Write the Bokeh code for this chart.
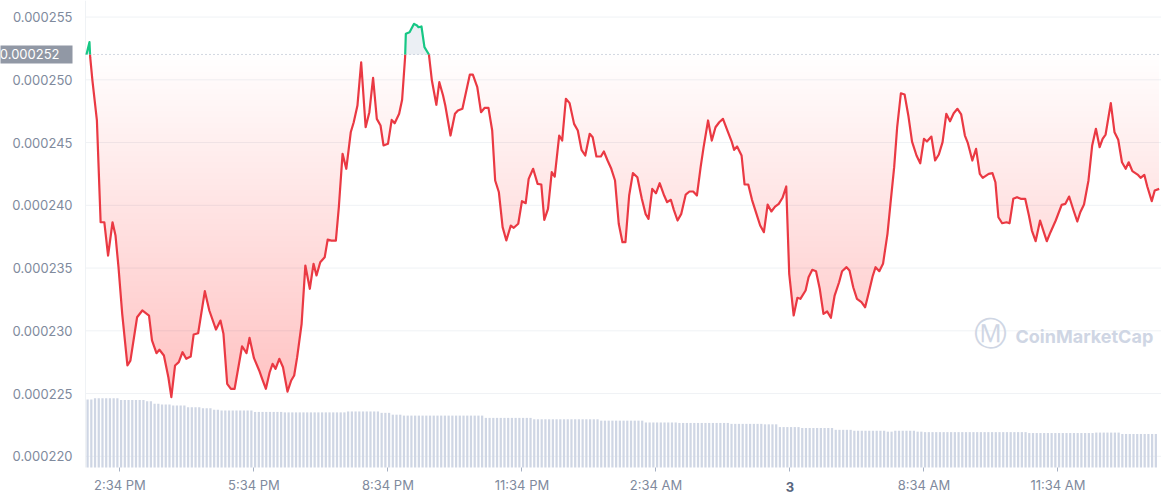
import numpy as np
import pandas as pd
from bokeh.plotting import figure
from bokeh.models import Range1d, FixedTicker, PrintfTickFormatter, Label
from bokeh.embed import file_html
from bokeh.resources import INLINE

# ---------------- data ----------------
start_time = "2023-06-02 13:49"           # first price point
minutes = [0, 4, 5, 8, 14, 19, 24, 29, 35, 39, 43, 48, 55, 59, 68, 75, 84, 88, 94, 98,
           104, 110, 114, 119, 124, 129, 134, 140, 144, 150, 159, 165, 174, 180, 184, 189, 194, 199, 209, 215,
           219, 225, 232, 236, 241, 246, 250, 254, 259, 264, 267, 270, 275, 279, 283, 289, 294, 300, 305, 309,
           314, 320, 324, 329, 335, 339, 344, 349, 355, 359, 364, 369, 375, 380, 385, 390, 395, 399, 405, 410,
           414, 420, 424, 428, 429, 434, 440, 444, 446, 450, 454, 460, 464, 470, 474, 479, 482, 489, 495, 499,
           505, 515, 519, 525, 530, 535, 540, 545, 549, 554, 559, 564, 570, 574, 580, 585, 590, 594, 600, 606,
           611, 615, 620, 625, 629, 635, 639, 644, 649, 655, 660, 665, 670, 676, 680, 685, 691, 695, 700, 705,
           710, 715, 720, 724, 729, 734, 740, 746, 751, 755, 760, 765, 770, 776, 780, 785, 789, 794, 799, 805,
           810, 815, 820, 825, 829, 835, 840, 845, 850, 855, 861, 867, 870, 874, 880, 884, 889, 894, 900, 905,
           910, 915, 920, 925, 930, 935, 940, 944, 950, 955, 959, 966, 970, 975, 980, 985, 990, 995, 1000, 1005,
           1011, 1015, 1021, 1025, 1030, 1035, 1041, 1046, 1051, 1056, 1060, 1065, 1070, 1076, 1080, 1085, 1089, 1094, 1099, 1104,
           1109, 1115, 1120, 1125, 1129, 1135, 1140, 1145, 1150, 1155, 1160, 1165, 1170, 1175, 1180, 1184, 1190, 1195, 1200, 1204,
           1212, 1217, 1221, 1225, 1230, 1236, 1240, 1245, 1250, 1255, 1261, 1266, 1270, 1275, 1281, 1286, 1290, 1295, 1302, 1310,
           1315, 1320, 1326, 1331, 1335, 1340, 1346, 1351, 1356, 1361, 1365, 1369, 1376, 1381, 1386, 1391, 1396, 1400, 1405, 1412,
           1416, 1421, 1425, 1431, 1435, 1441]

price_e6 = [252.02, 253.00, 251.80, 249.94, 246.76, 238.65, 238.65, 236.00, 238.65, 237.59,
            235.07, 231.35, 227.24, 227.63, 231.08, 231.62, 231.22, 229.23, 228.22, 228.49,
            228.03, 226.30, 224.71, 227.24, 227.50, 228.30, 227.77, 227.95, 229.71, 229.81,
            233.16, 231.62, 230.10, 230.82, 229.76, 225.78, 225.38, 225.38, 228.77, 228.22,
            229.44, 227.82, 226.84, 226.18, 225.38, 226.68, 227.37, 226.97, 227.77, 227.10,
            226.12, 225.16, 226.04, 226.44, 227.90, 230.56, 235.20, 233.35, 235.34, 234.41,
            235.47, 235.86, 237.27, 237.19, 237.19, 239.85, 244.10, 242.91, 245.82, 246.62,
            247.95, 251.40, 246.22, 247.42, 250.16, 246.89, 246.36, 244.77, 244.90, 246.81,
            246.54, 247.29, 248.41, 251.80, 253.67, 253.79, 254.46, 254.33, 254.19, 254.25,
            252.60, 252.02, 249.94, 248.01, 249.81, 248.75, 247.95, 245.56, 247.29, 247.55,
            247.69, 250.42, 250.42, 249.41, 247.42, 247.77, 247.77, 245.96, 241.98, 241.04,
            238.26, 237.20, 238.39, 238.21, 238.53, 240.33, 240.17, 242.11, 242.91, 241.71,
            241.66, 238.84, 239.72, 242.64, 242.29, 245.56, 245.16, 248.49, 248.14, 246.49,
            245.96, 244.42, 243.97, 245.70, 245.43, 243.89, 243.89, 244.29, 243.57, 242.91,
            241.98, 238.53, 237.06, 237.06, 240.78, 242.56, 242.24, 240.52, 239.32, 238.92,
            241.31, 240.96, 241.76, 240.78, 240.25, 240.44, 239.64, 238.79, 239.32, 240.86,
            241.10, 241.10, 240.78, 243.04, 244.63, 246.76, 245.16, 246.22, 246.62, 246.89,
            245.96, 245.03, 244.42, 244.69, 243.97, 241.66, 241.66, 240.44, 239.32, 238.39,
            237.86, 240.06, 239.51, 239.90, 240.12, 240.60, 241.50, 234.54, 231.22, 232.63,
            232.55, 233.21, 234.27, 234.86, 234.75, 233.35, 231.35, 231.54, 231.04, 232.81,
            233.87, 234.75, 235.07, 234.81, 233.47, 232.55, 232.28, 231.88, 233.08, 234.33,
            235.07, 234.75, 235.34, 237.73, 240.12, 243.04, 246.22, 248.93, 248.83, 247.16,
            245.08, 243.97, 243.35, 245.30, 245.08, 245.48, 243.57, 244.05, 245.03, 247.29,
            246.70, 247.34, 247.69, 247.24, 245.56, 244.95, 243.57, 244.50, 242.51, 242.19,
            242.51, 242.56, 241.84, 239.05, 238.57, 238.65, 238.57, 240.52, 240.65, 240.52,
            240.52, 239.19, 237.99, 237.14, 238.79, 237.86, 237.14, 237.86, 238.79, 240.04,
            240.12, 240.70, 239.59, 238.71, 239.45, 240.06, 241.98, 244.77, 246.10, 244.63,
            245.30, 245.64, 248.14, 245.82, 245.22, 243.43, 242.91, 243.43, 242.72, 242.45,
            242.19, 242.43, 241.50, 240.33, 241.18, 241.31]

open_price_e6 = 252.02      # reference (open) price, dotted line

# volume bars, one per 5 minutes (arbitrary units)
volume_interval_min = 5
volume = [
    14.8, 14.8,
    15.1, 15.1, 15.1, 15.1, 15.1, 15.1, 15.1,
    14.7, 14.7, 14.7, 14.7, 14.7, 14.7, 14.7,
    14.4, 14.4,
    13.9, 13.9,
    13.7, 13.7, 13.7,
    13.5, 13.5, 13.5, 13.5,
    13.1, 13.1, 13.1, 13.1,
    12.9, 12.9, 12.9,
    12.6, 12.6,
    12.4, 12.4, 12.4, 12.4, 12.4, 12.4, 12.4, 12.4, 12.4,
    12.1, 12.1, 12.1, 12.1, 12.1, 12.1, 12.1, 12.1,
    12.0, 12.0, 12.0, 12.0, 12.0, 12.0, 12.0, 12.0, 12.0, 12.0, 12.0, 12.0, 12.0, 12.0, 12.0, 12.0, 12.0,
    12.2, 12.2, 12.2, 12.2, 12.2, 12.2, 12.2, 12.2, 12.2,
    11.9, 11.9, 11.9,
    11.5, 11.5, 11.5,
    11.3, 11.3, 11.3, 11.3, 11.3, 11.3, 11.3, 11.3, 11.3, 11.3, 11.3,
    11.3, 11.3, 11.3, 11.3, 11.3, 11.3, 11.3, 11.3, 11.3, 11.3, 11.3,
    10.8, 10.8, 10.8, 10.8, 10.8, 10.8, 10.8, 10.8, 10.8, 10.8, 10.8, 10.8, 10.8,
    10.5, 10.5, 10.5, 10.5, 10.5, 10.5, 10.5, 10.5, 10.5, 10.5, 10.5, 10.5, 10.5, 10.5, 10.5, 10.5, 10.5, 10.5,
    10.2, 10.2, 10.2, 10.2, 10.2, 10.2, 10.2, 10.2, 10.2, 10.2, 10.2, 10.2,
    9.8, 9.8, 9.8, 9.8, 9.8, 9.8, 9.8, 9.8, 9.8,
    9.7, 9.7, 9.7, 9.7, 9.7, 9.7, 9.7, 9.7, 9.7, 9.7, 9.7, 9.7, 9.7, 9.7,
    9.5, 9.5, 9.5, 9.5, 9.5, 9.5, 9.5, 9.5, 9.5,
    9.4, 9.4, 9.4, 9.4,
    8.8, 8.8, 8.8, 8.8, 8.8, 8.8,
    8.6, 8.6, 8.6, 8.6, 8.6, 8.6, 8.6, 8.6, 8.6,
    8.2, 8.2, 8.2, 8.2, 8.2,
    8.0, 8.0, 8.0, 8.0, 8.0, 8.0, 8.0, 8.0, 8.0,
    7.8, 7.8,
    8.0, 8.0, 8.0, 8.0, 8.0, 8.0,
    7.8, 7.8,
    7.7, 7.7, 7.7, 7.7, 7.7, 7.7, 7.7, 7.7, 7.7, 7.7, 7.7, 7.7, 7.7, 7.7,
    7.7, 7.7, 7.7, 7.7, 7.7, 7.7, 7.7, 7.7, 7.7, 7.7, 7.7, 7.7, 7.7, 7.7,
    7.5, 7.5, 7.5, 7.5, 7.5, 7.5, 7.5, 7.5, 7.5, 7.5, 7.5, 7.5, 7.5, 7.5, 7.5, 7.5, 7.5, 7.5,
    7.6, 7.6, 7.6, 7.6, 7.6, 7.6, 7.6,
    7.3, 7.3, 7.3, 7.3, 7.3, 7.3, 7.3, 7.3, 7.3, 7.3,
]

x_tick_times = ["2023-06-02 14:34", "2023-06-02 17:34", "2023-06-02 20:34", "2023-06-02 23:34",
                "2023-06-03 02:34", "2023-06-03 05:34", "2023-06-03 08:34", "2023-06-03 11:34"]
x_tick_labels = ["2:34 PM", "5:34 PM", "8:34 PM", "11:34 PM", "2:34 AM", "3", "8:34 AM", "11:34 AM"]
day_label = "3"
y_ticks_e6 = [220, 225, 230, 235, 240, 245, 250, 255]

# ---------------- styling ----------------
RED = "#ea3943"
GREEN = "#16c784"
GRID = "#eff2f5"
LABEL = "#808a9d"
FONT = "Inter"
MIN = 60000.0

start_ms = pd.Timestamp(start_time).value / 1e6
xs = start_ms + np.array(minutes, dtype=float) * MIN
ys = np.array(price_e6, dtype=float)
base = open_price_e6

# value ranges of the whole canvas and of the plotting area inside it
x_view = (start_ms - 115.5 * MIN, start_ms + 1444.1 * MIN)   # whole canvas width
x_area_left = start_ms - 1.3 * MIN                           # left edge of the plotting area
y_view = (216.48, 256.32)                                    # whole canvas height
y_area_bottom = 219.11                                       # bottom of the plotting area

p = figure(frame_width=1161, frame_height=500, output_backend="svg", toolbar_location=None,
           x_axis_type="datetime",
           x_range=Range1d(*x_view),
           y_range=Range1d(y_view[0] * 1e-6, y_view[1] * 1e-6),
           min_border=0, background_fill_color="white", border_fill_color="white")
p.outline_line_color = None
p.extra_y_ranges = {"vol": Range1d(-7.19, 101.7)}

# ---- y axis (fixed at the left edge of the plotting area) ----
yt = FixedTicker(ticks=[v * 1e-6 for v in y_ticks_e6])
p.yaxis.ticker = yt
p.yaxis.fixed_location = x_area_left
p.yaxis.formatter = PrintfTickFormatter(format="%.6f")
p.yaxis.axis_line_color = None
p.yaxis.major_tick_line_color = None
p.yaxis.minor_tick_line_color = None
p.yaxis.major_tick_out = 0
p.yaxis.major_tick_in = 0
p.yaxis.major_label_standoff = 13
p.ygrid.grid_line_color = None
p.xgrid.grid_line_color = None

# ---- x axis (fixed at the bottom of the plotting area) ----
tick_ms = [pd.Timestamp(t).value / 1e6 for t in x_tick_times]
p.xaxis.ticker = FixedTicker(ticks=tick_ms)
p.xaxis.fixed_location = y_area_bottom * 1e-6
p.xaxis.major_label_overrides = {t: ("" if lab == day_label else lab) for t, lab in zip(tick_ms, x_tick_labels)}
p.xaxis.axis_line_color = None
p.xaxis.major_tick_line_color = "#a6b0c3"
p.xaxis.minor_tick_line_color = None
p.xaxis.major_tick_out = 4
p.xaxis.major_tick_in = 0
p.xaxis.major_label_standoff = 6

for ax in (p.xaxis, p.yaxis):
    ax.major_label_text_font = FONT
    ax.major_label_text_font_size = "13px"
    ax.major_label_text_color = LABEL

# horizontal grid lines and left edge line of the plotting area
p.segment(x0=[x_area_left] * len(y_ticks_e6), x1=[x_view[1]] * len(y_ticks_e6),
          y0=[v * 1e-6 for v in y_ticks_e6], y1=[v * 1e-6 for v in y_ticks_e6],
          line_color=GRID, line_width=1)
p.segment(x0=[x_area_left], x1=[x_area_left], y0=[y_area_bottom * 1e-6], y1=[y_view[1] * 1e-6],
          line_color=GRID, line_width=1)

# volume bars
vol_x = start_ms + (np.arange(len(volume)) * volume_interval_min + 1.5) * MIN
p.vbar(x=vol_x, top=volume, bottom=0, width=3.0 * MIN, y_range_name="vol",
       fill_color="#cfd6e4", line_color=None)


def clip_to(xv, yv, level, below=True):
    ox, oy = [xv[0]], [min(yv[0], level) if below else max(yv[0], level)]
    for i in range(1, len(xv)):
        y0, y1 = yv[i - 1], yv[i]
        if (y0 - level) * (y1 - level) < 0:
            t = (level - y0) / (y1 - y0)
            ox.append(xv[i - 1] + t * (xv[i] - xv[i - 1]))
            oy.append(level)
        ox.append(xv[i])
        oy.append(min(y1, level) if below else max(y1, level))
    return np.array(ox), np.array(oy)


# red gradient area under the open price
step = 0.45
k = 0
while True:
    L = base - k * step
    if ys.min() >= L:
        break
    cx, cy = clip_to(xs, ys, L, below=True)
    p.varea(x=cx, y1=cy * 1e-6, y2=np.full_like(cy, L) * 1e-6,
            fill_color=RED, fill_alpha=0.0058)
    k += 1

# light area above the open price
cx, cy = clip_to(xs, ys, base, below=False)
p.varea(x=cx, y1=np.full_like(cy, base) * 1e-6, y2=cy * 1e-6, fill_color="#e9edf3", fill_alpha=0.9)

# dotted open-price line
p.segment(x0=[x_area_left], x1=[x_view[1]], y0=[base * 1e-6], y1=[base * 1e-6],
          line_color="#a6b0c3", line_dash="1 3", line_width=1)

# split price line into red (below open) and green (above open) pieces
red_x, red_y, green_x, green_y = [], [], [], []
cur_x, cur_y = [xs[0]], [ys[0]]
above = ys[0] >= base
for i in range(1, len(xs)):
    now_above = ys[i] >= base
    if now_above != above:
        t = (base - ys[i - 1]) / (ys[i] - ys[i - 1])
        xc = xs[i - 1] + t * (xs[i] - xs[i - 1])
        cur_x.append(xc); cur_y.append(base)
        (green_x if above else red_x).append(cur_x); (green_y if above else red_y).append([v * 1e-6 for v in cur_y])
        cur_x, cur_y = [xc], [base]
        above = now_above
    cur_x.append(xs[i]); cur_y.append(ys[i])
(green_x if above else red_x).append(cur_x); (green_y if above else red_y).append([v * 1e-6 for v in cur_y])

p.multi_line(xs=red_x, ys=red_y, line_color=RED, line_width=2.2, line_join="round")
p.multi_line(xs=green_x, ys=green_y, line_color=GREEN, line_width=2.2, line_join="round")

# open-price tag beside the axis
p.add_layout(Label(x=x_area_left, x_units="data", x_offset=-13, y=base * 1e-6, y_units="data",
                   text="%.6f" % (base * 1e-6), text_align="right", text_baseline="middle",
                   text_color="white", text_font=FONT, text_font_size="13px",
                   background_fill_color="#9198a5",
                   padding=dict(left=12, right=13, top=4, bottom=4)))

# bold day label under its tick
p.add_layout(Label(x=tick_ms[x_tick_labels.index(day_label)], x_units="data",
                   y=y_area_bottom * 1e-6, y_units="data", y_offset=-19.7,
                   text=day_label, text_align="center", text_baseline="middle",
                   text_color="#58667e", text_font=FONT, text_font_size="13px",
                   text_font_style="bold"))

# watermark
p.add_layout(Label(x=1015, y=164.5, x_units="screen", y_units="screen", text="CoinMarketCap",
                   text_align="left", text_baseline="middle", text_color="#cfd6e4",
                   text_font=FONT, text_font_size="18px", text_font_style="bold"))
p.add_layout(Label(x=990, y=167, x_units="screen", y_units="screen", text="\u24c2",
                   text_align="center", text_baseline="middle", text_color="#cfd6e4",
                   text_font="DejaVu Sans", text_font_size="33px"))

open("out.html", "w").write(file_html(p, INLINE))
